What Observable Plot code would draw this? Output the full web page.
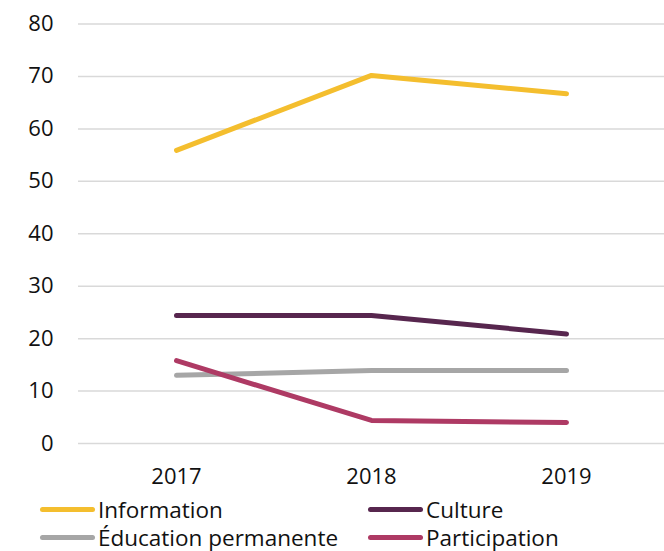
<!DOCTYPE html>
<html><head><meta charset="utf-8">
<script src="https://cdn.jsdelivr.net/npm/d3@7"></script>
<script src="https://cdn.jsdelivr.net/npm/@observablehq/plot@0.6"></script>
<style>
body{margin:0;background:#fff;font-family:"Open Sans",sans-serif;}
#legend{display:grid;grid-template-columns:328px 296px;padding-left:40px;margin-top:5px;}
.item{display:flex;align-items:center;height:28px;font-size:22.5px;color:#111;white-space:nowrap;}
.sw{width:55px;height:5px;border-radius:3px;margin-right:3px;flex:none;}
</style></head>
<body><div id="chart"></div><div id="legend"></div>
<script>
const years = ["2017","2018","2019"];
const seriesNames = ["Information","Culture","Éducation permanente","Participation"];
const information = [55.9, 70.2, 66.7];
const culture = [24.4, 24.4, 20.9];
const education = [13.0, 13.9, 13.9];
const participation = [15.8, 4.4, 4.0];
const colors = ["#F4BE2E","#57264E","#A6A6A6","#AE3A64"];
const yTicks = [0,10,20,30,40,50,60,70,80];

const seriesValues = [information, culture, education, participation];
const data = [];
seriesNames.forEach((s,i)=>years.forEach((y,j)=>data.push({series:s,year:y,value:seriesValues[i][j]})));

const plot = Plot.plot({
  width:664, height:490,
  marginLeft:78, marginRight:0, marginTop:23.5, marginBottom:47,
  style:{fontFamily:"Open Sans, sans-serif", fontSize:"22px", color:"#111", background:"#fff"},
  x:{type:"point", domain:years, padding:0.5, label:null},
  y:{domain:[0,80], ticks:yTicks, label:null},
  color:{domain:seriesNames, range:colors},
  marks:[
    Plot.ruleY(yTicks,{stroke:"#d9d9d9",strokeWidth:1.5}),
    Plot.axisY({ticks:yTicks, tickSize:0, tickPadding:25, label:null, fontSize:22}),
    Plot.axisX({tickSize:0, tickPadding:25, label:null, fontSize:22}),
    Plot.line(data,{x:"year",y:"value",z:"series",stroke:"series",strokeWidth:5,strokeLinecap:"round",strokeLinejoin:"round"})
  ]
});
document.getElementById("chart").appendChild(plot);

const leg = document.getElementById("legend");
seriesNames.forEach((s,i)=>{
  const d=document.createElement("div");d.className="item";
  const sw=document.createElement("span");sw.className="sw";sw.style.background=colors[i];
  d.appendChild(sw);d.appendChild(document.createTextNode(s));leg.appendChild(d);
});
</script></body></html>
